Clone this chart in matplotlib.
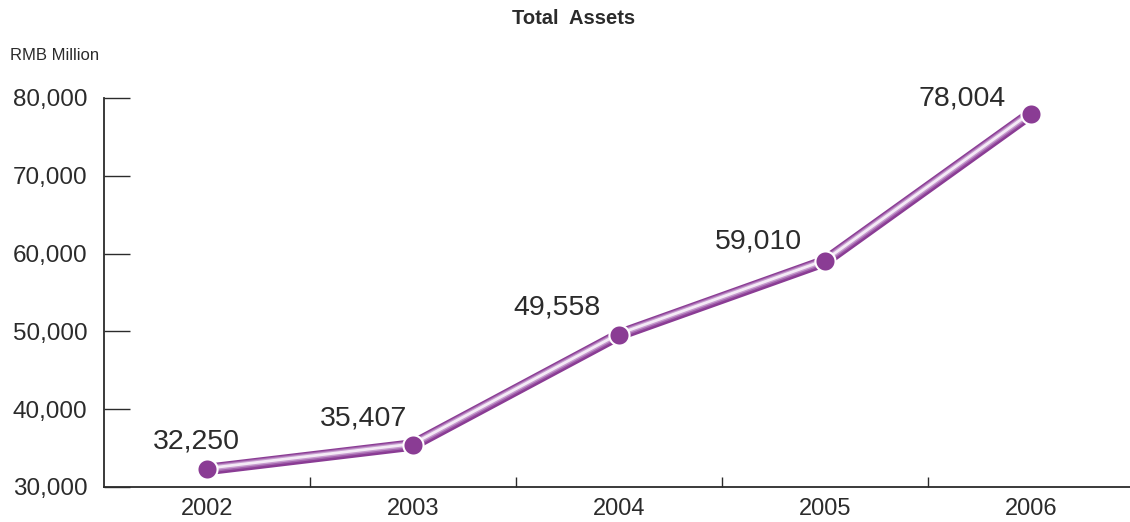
import numpy as np
import matplotlib
matplotlib.use("Agg")
import matplotlib.pyplot as plt
import matplotlib.patheffects as pe

plt.rcParams['font.family'] = ['Liberation Sans', 'DejaVu Sans']

years = ['2002', '2003', '2004', '2005', '2006']
assets = [32250, 35407, 49558, 59010, 78004]
yticks = [30000, 40000, 50000, 60000, 70000, 80000]

# label offsets in pixels from each point
label_offsets = [(-11, 28), (-49, 26), (-62, 27), (-67, 20), (-69, 15)]

purple = '#8a3c94'
dark = '#2b2b2b'

fig = plt.figure(figsize=(11.3, 5.22), dpi=100)
ax = fig.add_axes([104 / 1130, 35 / 522, 1030 / 1130, (487 - 98) / 522])

x = np.arange(len(years))

# tube-like line: white rim, purple body, soft highlight slightly above centre
ax.plot(x, assets, color='white', lw=10.5, solid_capstyle='butt', zorder=2, clip_on=False)
ax.plot(x, assets, color=purple, lw=8.3, solid_capstyle='butt', zorder=3, clip_on=False,
        path_effects=[pe.Normal(),
                      pe.Stroke(linewidth=5.6, foreground='#a465ae', offset=(0, 0.5)),
                      pe.Stroke(linewidth=3.8, foreground='#c79dcf', offset=(0, 0.7)),
                      pe.Stroke(linewidth=2.0, foreground='#f4eaf6', offset=(0, 0.8))])
ax.plot(x, assets, 'o', color=purple, ms=14.5, mec='white', mew=1.5, zorder=4, clip_on=False)

for xi, v, off in zip(x, assets, label_offsets):
    ax.annotate(f'{v:,}', (xi, v), xytext=off, textcoords='offset pixels',
                ha='center', va='center', fontsize=20.5, color=dark)

ax.set_xlim(-0.5, len(years) - 0.5)
ax.set_ylim(30000, 80000)
ax.set_yticks(yticks)
ax.set_yticklabels([f'{t:,}' for t in yticks], fontsize=17.5, color=dark)
ax.set_xticks(x)
ax.set_xticklabels(years, fontsize=17, color=dark)
ax.set_xticks(np.arange(0.5, len(years) - 1, 1), minor=True)

ax.tick_params(axis='y', direction='in', length=18.5, width=1, color=dark, pad=12)
ax.tick_params(axis='x', which='major', length=0, pad=8)
ax.tick_params(axis='x', which='minor', direction='in', length=7.5, width=1, color=dark)

for s in ['top', 'right']:
    ax.spines[s].set_visible(False)
for s in ['left', 'bottom']:
    ax.spines[s].set_color(dark)
    ax.spines[s].set_linewidth(1.3)

fig.text(574 / 1130, 1 - 19 / 522, 'Total  Assets', ha='center', va='center',
         fontsize=14.5, fontweight='bold', color=dark)
fig.text(10 / 1130, 1 - 55 / 522, 'RMB Million', ha='left', va='center',
         fontsize=12, color=dark)

fig.savefig('out.png', dpi=100)
